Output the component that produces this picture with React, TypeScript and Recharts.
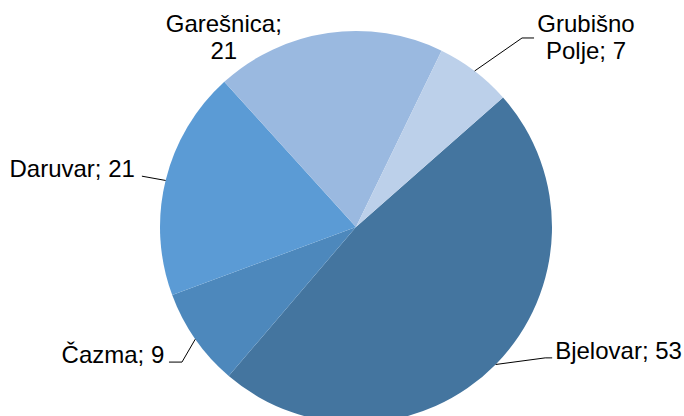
import { PieChart, Pie, Cell } from 'recharts'

const towns = ['Bjelovar', 'Čazma', 'Daruvar', 'Garešnica', 'Grubišno Polje']
const counts = [53, 9, 21, 21, 7]
const colors = ['#44759F', '#4D88BC', '#5B9BD5', '#9AB9E0', '#BCD0EA']

const data = towns.map((name, i) => ({ name, value: counts[i] }))

// label placement relative to the point where the slice middle meets the rim
// elbow/end: leader line points, tx/ty: text anchor (first baseline), breakAfter: words on first line
const labelLayout: Record<string, any> = {
  Bjelovar: { elbow: [49.5, -6.6], end: [56.5, -6.6], tx: 59.5, ty: -5.5, anchor: 'start', breakAfter: 0 },
  'Čazma': { elbow: [-13.3, 22.9], end: [-26.3, 22.9], tx: -31, ty: 23.5, anchor: 'end', breakAfter: 0 },
  Daruvar: { elbow: [-23.7, -4.3], end: [-23.7, -4.3], tx: -30.7, ty: -3.5, anchor: 'end', breakAfter: 0 },
  'Garešnica': { elbow: null, end: null, tx: -104.4, ty: -1, anchor: 'middle', breakAfter: 1 },
  'Grubišno Polje': { elbow: [47.4, -33], end: [59.4, -33], tx: 111.4, ty: -39, anchor: 'middle', breakAfter: 1 },
}

const RAD = Math.PI / 180

function renderLabel(props: any) {
  const { cx, cy, midAngle, outerRadius, name, value } = props
  const lay = labelLayout[name]
  if (!lay) return null
  const x0 = cx + outerRadius * Math.cos(-midAngle * RAD)
  const y0 = cy + outerRadius * Math.sin(-midAngle * RAD)
  const words = `${name}; ${value}`.split(' ')
  const lines = lay.breakAfter
    ? [words.slice(0, lay.breakAfter).join(' '), words.slice(lay.breakAfter).join(' ')]
    : [words.join(' ')]
  return (
    <g>
      {lay.elbow && (
        <polyline
          points={`${x0},${y0} ${x0 + lay.elbow[0]},${y0 + lay.elbow[1]} ${x0 + lay.end[0]},${y0 + lay.end[1]}`}
          fill="none"
          stroke="#000"
          strokeWidth={1}
        />
      )}
      <text
        x={x0 + lay.tx}
        y={y0 + lay.ty}
        textAnchor={lay.anchor}
        fill="#000"
        fontSize={24}
        fontFamily="'Liberation Sans', Arial, sans-serif"
      >
        {lines.map((line, i) => (
          <tspan key={i} x={x0 + lay.tx} dy={i === 0 ? 0 : 27.5}>
            {line}
          </tspan>
        ))}
      </text>
    </g>
  )
}

export default function App() {
  return (
    <div style={{ position: 'absolute', left: 0, top: 0, width: 684, height: 416, overflow: 'hidden', background: '#fff' }}>
      <PieChart width={684} height={416} margin={{ top: 0, right: 0, bottom: 0, left: 0 }}>
        <Pie
          data={data}
          dataKey="value"
          nameKey="name"
          cx={356}
          cy={227}
          innerRadius={0}
          outerRadius={196}
          startAngle={41.4}
          endAngle={-318.6}
          stroke="none"
          label={renderLabel}
          labelLine={false}
          isAnimationActive={false}
        >
          {data.map((d, i) => (
            <Cell key={d.name} fill={colors[i]} />
          ))}
        </Pie>
      </PieChart>
    </div>
  )
}
